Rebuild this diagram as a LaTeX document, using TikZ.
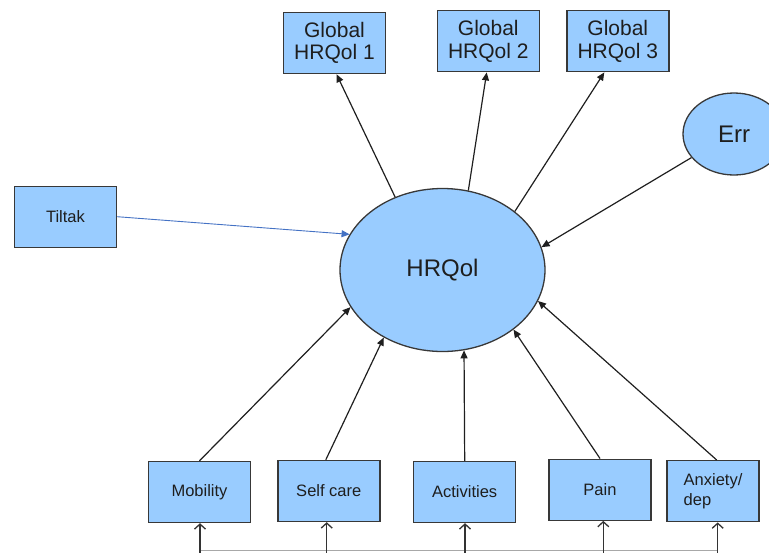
\documentclass[tikz,border=0pt]{standalone}
\usepackage{fontspec}
\setmainfont{Liberation Sans}
\usetikzlibrary{arrows.meta,shapes.geometric}
\definecolor{boxfill}{HTML}{99CCFF}
\definecolor{boxline}{HTML}{383838}
\definecolor{txt}{HTML}{1E1E1E}
\definecolor{blueline}{HTML}{4472C4}
\definecolor{hline}{HTML}{A8A8A8}
\begin{document}
\begin{tikzpicture}[x=1pt,y=-1pt,
  box/.style={draw=boxline, fill=boxfill, line width=1.4pt, inner sep=0pt, text=txt},
  small/.style={box, minimum width=102pt, minimum height=61pt, font=\fontsize{16.5}{20}\selectfont},
  glob/.style={box, minimum width=102pt, minimum height=61pt, align=center, font=\fontsize{21}{22.5}\selectfont},
  lat/.style={ellipse, draw=boxline, fill=boxfill, line width=1.3pt, inner sep=0pt, text=txt, font=\fontsize{24}{28}\selectfont},
  arr/.style={draw=black!88, line width=1.2pt, -{Triangle[length=8pt,width=7pt]}},
  blarr/.style={draw=blueline, line width=0.9pt, -{Triangle[length=8pt,width=7pt]}},
  inarr/.style={draw=black!80, line width=1.3pt, -{Straight Barb[length=5pt,width=11pt]}},
  base/.style={draw=hline, line width=1.2pt},
]
\useasboundingbox (0,0) rectangle (769,552);
\clip (0,0) rectangle (769,552);

% top indicators
\node[glob] (G1) at (334.5,43) {Global\\HRQol 1};
\node[glob] (G2) at (488.3,41.2) {Global\\HRQol 2};
\node[glob] (G3) at (617.8,41.2) {Global\\HRQol 3};

% left cause
\node[small] (T) at (65.5,216.7) {Tiltak};

% latents
\node[lat, minimum width=205pt, minimum height=163pt] (H) at (442.5,270) {HRQol};
\node[lat, minimum width=102pt, minimum height=82pt] (E) at (734,134) {Err};

% bottom items
\node[small] (Mob) at (199.5,492) {Mobility};
\node[small] (Self) at (328.8,491) {Self care};
\node[small] (Act) at (464.7,492) {Activities};
\node[small] (Pain) at (600,489.7) {Pain};
\node[small, minimum width=92pt, align=left] (Anx) at (713,491.2) {Anxiety/\\dep};

% arrows to indicators
\draw[arr] (H.123.8) -- ([xshift=2pt]G1.south);
\draw[arr] (H.72.4) -- ([xshift=-1.6pt]G2.south);
\draw[arr] (H.39.8) -- ([xshift=-13.5pt]G3.south);

% error and intervention
\draw[arr] (E.209) -- (H.13.1);
\draw[blarr] (T.east) -- (H.159.2);

% items to latent
\draw[arr] (Mob.north) -- (H.202);
\draw[arr] ([xshift=-3pt]Self.north) -- (H.229.7);
\draw[arr] (Act.north) -- (H.285);
\draw[arr] (Pain.north) -- (H.320.8);
\draw[arr] ([xshift=3.7pt]Anx.north) -- (H.342.7);

% bottom feed lines
\coordinate (b1) at (200,550.5);
\coordinate (b2) at (326.7,550.5);
\coordinate (b3) at (465,550.5);
\coordinate (b4) at (603.3,550.5);
\coordinate (b5) at (717.7,550.5);
\draw[base] (b1) -- (b5);
\draw[inarr] ([yshift=-4pt]b1) -- (b1 |- Mob.south);
\draw[inarr] ([yshift=-4pt]b2) -- (b2 |- Self.south);
\draw[inarr] ([yshift=-4pt]b3) -- (b3 |- Act.south);
\draw[inarr] ([yshift=-4pt]b4) -- (b4 |- Pain.south);
\draw[inarr] ([yshift=-4pt]b5) -- (b5 |- Anx.south);
\end{tikzpicture}
\end{document}
